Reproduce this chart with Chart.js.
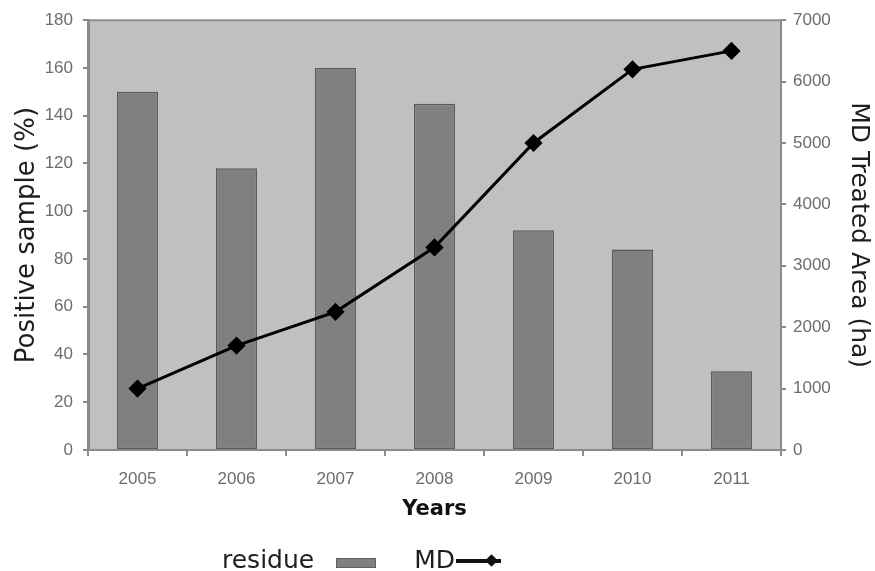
<!DOCTYPE html>
<html>
<head>
<meta charset="utf-8">
<script src="https://cdn.jsdelivr.net/npm/chart.js@4.4.0/dist/chart.umd.min.js"></script>
<style>
  html, body { margin: 0; padding: 0; background: #ffffff; }
  #wrap { position: relative; width: 875px; height: 571px; }
  #legend { position: absolute; left: 222px; top: 545px; height: 29px; font-family: "DejaVu Sans", sans-serif; font-size: 25px; line-height: 29px; color: #1e1e1e; white-space: nowrap; }
  #legend span, #legend i { display: inline-block; vertical-align: top; position: relative; }
  .box { width: 40px; height: 10px; background: #808080; border: 1px solid #5e5e5e; box-sizing: border-box; margin-left: 22px; top: 13px; }
  .md { margin-left: 38px; }
  .ln { width: 45px; height: 4px; background: #111; top: 14px; margin-left: 1px; }
  .ln::after { content: ""; position: absolute; left: 31px; top: -3px; width: 9px; height: 9px; background: #111; transform: rotate(45deg); }
</style>
</head>
<body>
<div id="wrap">
  <canvas id="c" width="875" height="571"></canvas>
  <div id="legend"><span>residue</span><i class="box"></i><span class="md">MD</span><i class="ln"></i></div>
</div>
<script>
const years = ['2005', '2006', '2007', '2008', '2009', '2010', '2011'];
const residue = [150, 118, 160, 145, 92, 84, 33];
const mdArea = [1000, 1700, 2250, 3300, 5000, 6200, 6500];
const leftAxis = { min: 0, max: 180, step: 20 };
const rightAxis = { min: 0, max: 7000, step: 1000 };
const seriesNames = ['residue', 'MD'];
const axisTitles = { x: 'Years', y: 'Positive sample (%)', y1: 'MD Treated Area (ha)' };

Chart.defaults.font.family = '"Liberation Sans", Arial, sans-serif';

const plotBg = {
  id: 'plotBg',
  beforeDraw(chart) {
    const { ctx, chartArea: a } = chart;
    ctx.save();
    ctx.fillStyle = '#c0c0c0';
    ctx.fillRect(a.left, a.top, a.right - a.left, a.bottom - a.top);
    ctx.restore();
  },
  afterDraw(chart) {
    const { ctx, chartArea: a } = chart;
    ctx.save();
    ctx.strokeStyle = '#8e8e8e';
    ctx.lineWidth = 2;
    ctx.beginPath();
    ctx.moveTo(a.left, a.top);
    ctx.lineTo(a.right, a.top);
    ctx.stroke();
    ctx.restore();
  }
};

const tickFont = { family: '"Liberation Sans", Arial, sans-serif', size: 17 };
const tickColor = '#6c6c6c';
const axisColor = '#8a8a8a';
const plainNumber = (v) => String(v);

new Chart(document.getElementById('c'), {
  type: 'bar',
  data: {
    labels: years,
    datasets: [
      {
        type: 'line',
        label: seriesNames[1],
        data: mdArea,
        yAxisID: 'y1',
        borderColor: '#000000',
        backgroundColor: '#000000',
        borderWidth: 3,
        pointStyle: 'rectRot',
        pointRadius: 7,
        pointHoverRadius: 7,
        pointBackgroundColor: '#000000',
        pointBorderColor: '#000000',
        tension: 0,
        order: 0
      },
      {
        type: 'bar',
        label: seriesNames[0],
        data: residue,
        yAxisID: 'y',
        backgroundColor: '#808080',
        borderColor: '#5a5a5a',
        borderWidth: 1.5,
        borderSkipped: false,
        barPercentage: 0.414,
        categoryPercentage: 1,
        order: 1
      }
    ]
  },
  options: {
    responsive: false,
    animation: false,
    devicePixelRatio: 1,
    layout: { padding: { top: 20, left: 0, right: 0, bottom: 0 } },
    plugins: {
      legend: { display: false },
      tooltip: { enabled: false }
    },
    scales: {
      x: {
        offset: true,
        grid: { display: true, drawOnChartArea: false, drawTicks: true, tickLength: 6, color: axisColor, lineWidth: 2, offset: true },
        border: { display: true, color: axisColor, width: 2 },
        ticks: { font: tickFont, color: tickColor, padding: 13, maxRotation: 0 },
        title: { display: true, text: axisTitles.x, font: { family: '"DejaVu Sans", sans-serif', size: 21, weight: 'bold' }, color: '#111111', padding: { top: 0, bottom: 49 } },
        afterFit(s) { s.height = 121; }
      },
      y: {
        position: 'left',
        min: leftAxis.min, max: leftAxis.max,
        grid: { display: true, drawOnChartArea: false, drawTicks: true, tickLength: 5, color: axisColor, lineWidth: 2 },
        border: { display: true, color: axisColor, width: 3 },
        ticks: { stepSize: leftAxis.step, font: tickFont, color: tickColor, padding: 10, callback: plainNumber },
        title: { display: true, text: axisTitles.y, font: { family: '"DejaVu Sans", sans-serif', size: 26 }, color: '#1e1e1e', padding: { top: 12, bottom: 0 } },
        afterFit(s) { s.width = 88; }
      },
      y1: {
        position: 'right',
        min: rightAxis.min, max: rightAxis.max,
        grid: { display: true, drawOnChartArea: false, drawTicks: true, tickLength: 5, color: axisColor, lineWidth: 2 },
        border: { display: true, color: axisColor, width: 2 },
        ticks: { stepSize: rightAxis.step, font: tickFont, color: tickColor, padding: 7, callback: plainNumber },
        title: { display: true, text: axisTitles.y1, font: { family: '"DejaVu Sans", sans-serif', size: 25 }, color: '#1e1e1e', padding: { top: 2, bottom: 0 } },
        afterFit(s) { s.width = 94; }
      }
    }
  },
  plugins: [plotBg]
});
</script>
</body>
</html>
